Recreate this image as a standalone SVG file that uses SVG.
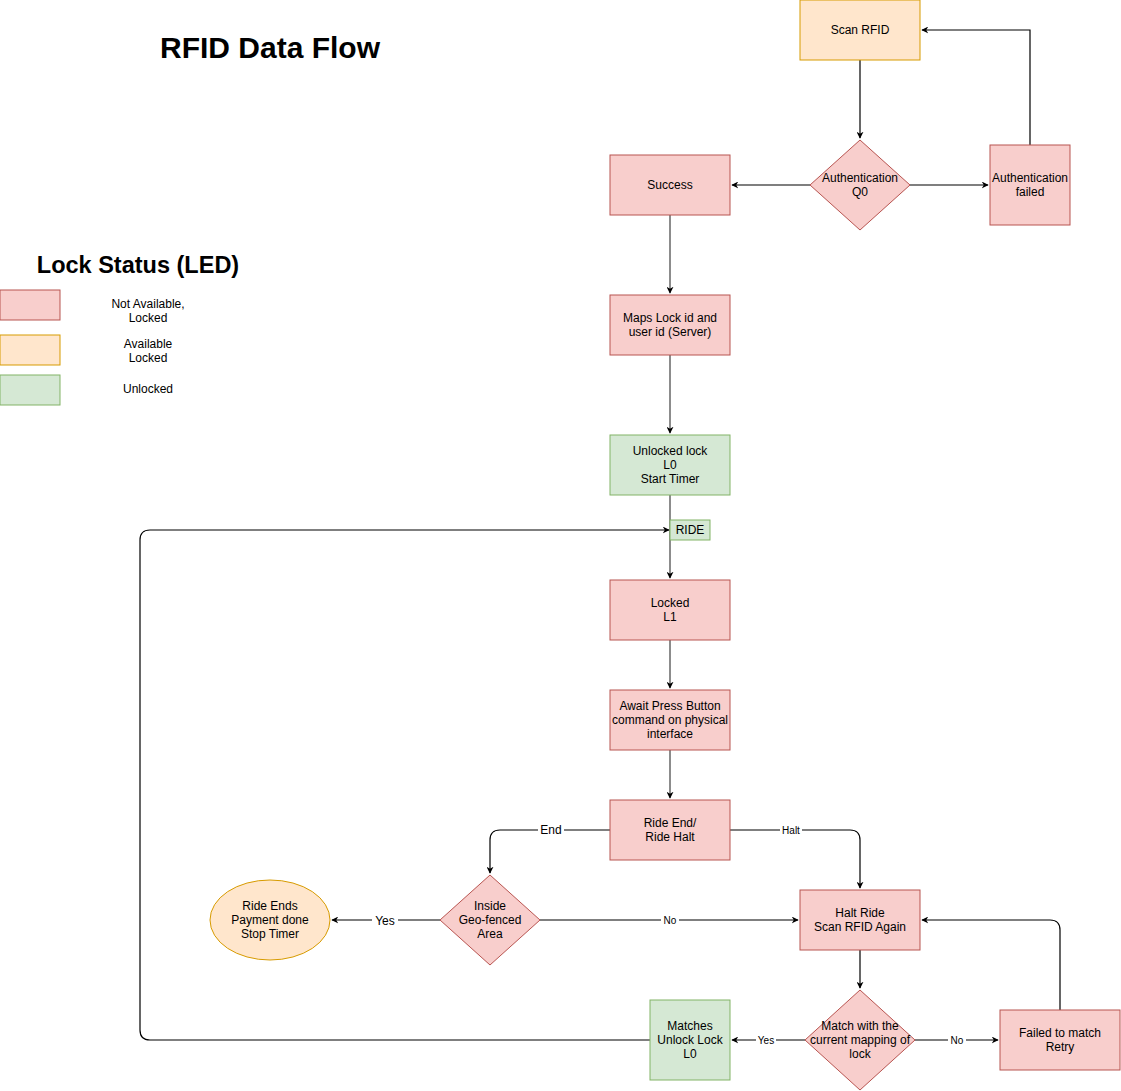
<svg xmlns="http://www.w3.org/2000/svg" width="1121" height="1091" viewBox="0 0 1121 1091">
<style>
text{font-family:"Liberation Sans",Arial,sans-serif;font-size:12px;fill:#000;text-anchor:middle}
.red{fill:#f8cecc;stroke:#b85450;stroke-width:1}
.org{fill:#ffe6cc;stroke:#d79b00;stroke-width:1}
.grn{fill:#d5e8d4;stroke:#82b366;stroke-width:1}
.c{fill:none;stroke:#000;stroke-width:1.2}
.g{fill:none;stroke:#666;stroke-width:1.5}
.lblbg{fill:#fff}
</style>
<defs>
<marker id="ah" viewBox="0 0 10 10" refX="9" refY="5" markerWidth="7" markerHeight="7" orient="auto" markerUnits="userSpaceOnUse">
<path d="M0,0 L10,5 L0,10 L3,5 Z" fill="#000"/>
</marker>
</defs>
<rect width="1121" height="1091" fill="#fff"/>

<g id="title"><text x="270" y="58" style="font-size:30px;font-weight:bold">RFID Data Flow</text></g>
<g id="legend">
<text x="138" y="273" style="font-size:23.5px;font-weight:bold">Lock Status (LED)</text>
<rect class="red" x="0" y="290" width="60" height="30"/>
<text x="148" y="308">Not Available,</text><text x="148" y="322">Locked</text>
<rect class="org" x="0" y="335" width="60" height="30"/>
<text x="148" y="348">Available</text><text x="148" y="362">Locked</text>
<rect class="grn" x="0" y="375" width="60" height="30"/>
<text x="148" y="393">Unlocked</text>
</g>

<g id="connectors">
<path class="c" d="M860,60 V138" marker-end="url(#ah)"/>
<path class="c" d="M810,185 H732" marker-end="url(#ah)"/>
<path class="c" d="M910,185 H988" marker-end="url(#ah)"/>
<path class="c" d="M1030,145 V30 H922" marker-end="url(#ah)"/>
<path class="g" d="M670,215 V293" marker-end="url(#ah)"/>
<path class="g" d="M670,355 V433" marker-end="url(#ah)"/>
<path class="g" d="M670,495 V578" marker-end="url(#ah)"/>
<path class="g" d="M670,640 V688" marker-end="url(#ah)"/>
<path class="g" d="M670,750 V798" marker-end="url(#ah)"/>
<path class="c" d="M650,1040 H150 Q140,1040 140,1030 V540 Q140,530 150,530 H669" marker-end="url(#ah)"/>
<path class="c" d="M610,830 H500 Q490,830 490,840 V873" marker-end="url(#ah)"/>
<path class="c" d="M730,830 H850 Q860,830 860,840 V888" marker-end="url(#ah)"/>
<path class="c" d="M440,920 H332" marker-end="url(#ah)"/>
<path class="c" d="M540,920 H798" marker-end="url(#ah)"/>
<path class="c" d="M860,950 V988" marker-end="url(#ah)"/>
<path class="c" d="M805,1040 H732" marker-end="url(#ah)"/>
<path class="c" d="M915,1040 H998" marker-end="url(#ah)"/>
<path class="c" d="M1060,1010 V930 Q1060,920 1050,920 H922" marker-end="url(#ah)"/>
<rect class="lblbg" x="538" y="823" width="26" height="14"/><text x="551" y="834">End</text>
<rect class="lblbg" x="780" y="824" width="22" height="12"/><text x="791" y="834" style="font-size:10px">Halt</text>
<rect class="lblbg" x="372" y="913" width="26" height="14"/><text x="385" y="925">Yes</text>
<rect class="lblbg" x="661" y="914" width="18" height="12"/><text x="670" y="924" style="font-size:10px">No</text>
<rect class="lblbg" x="756" y="1034" width="20" height="12"/><text x="766" y="1044" style="font-size:10px">Yes</text>
<rect class="lblbg" x="948" y="1034" width="18" height="12"/><text x="957" y="1044" style="font-size:10px">No</text>
</g>

<g id="scan-rfid"><rect class="org" x="800" y="0" width="120" height="60"/><text x="860" y="34">Scan RFID</text></g>
<g id="auth"><polygon class="red" points="860,140 910,185 860,230 810,185"/><text x="860" y="182">Authentication</text><text x="860" y="196">Q0</text></g>
<g id="success"><rect class="red" x="610" y="155" width="120" height="60"/><text x="670" y="189">Success</text></g>
<g id="auth-failed"><rect class="red" x="990" y="145" width="80" height="80"/><text x="1030" y="182">Authentication</text><text x="1030" y="196">failed</text></g>
<g id="maps"><rect class="red" x="610" y="295" width="120" height="60"/><text x="670" y="322">Maps Lock id and</text><text x="670" y="336">user id (Server)</text></g>
<g id="unlocked"><rect class="grn" x="610" y="435" width="120" height="60"/><text x="670" y="455">Unlocked lock</text><text x="670" y="469">L0</text><text x="670" y="483">Start Timer</text></g>
<g id="ride"><rect class="grn" x="670" y="520" width="40" height="20"/><text x="690" y="534">RIDE</text></g>
<g id="locked"><rect class="red" x="610" y="580" width="120" height="60"/><text x="670" y="607">Locked</text><text x="670" y="621">L1</text></g>
<g id="await"><rect class="red" x="610" y="690" width="120" height="60"/><text x="670" y="710">Await Press Button</text><text x="670" y="724">command on physical</text><text x="670" y="738">interface</text></g>
<g id="ride-end"><rect class="red" x="610" y="800" width="120" height="60"/><text x="670" y="827">Ride End/</text><text x="670" y="841">Ride Halt</text></g>
<g id="geo"><polygon class="red" points="490,875 540,920 490,965 440,920"/><text x="490" y="910">Inside</text><text x="490" y="924">Geo-fenced</text><text x="490" y="938">Area</text></g>
<g id="ride-ends"><ellipse class="org" cx="270" cy="920" rx="60" ry="40"/><text x="270" y="910">Ride Ends</text><text x="270" y="924">Payment done</text><text x="270" y="938">Stop Timer</text></g>
<g id="halt-ride"><rect class="red" x="800" y="890" width="120" height="60"/><text x="860" y="917">Halt Ride</text><text x="860" y="931">Scan RFID Again</text></g>
<g id="match"><polygon class="red" points="860,990 915,1040 860,1090 805,1040"/><text x="860" y="1030">Match with the</text><text x="860" y="1044">current mapping of</text><text x="860" y="1058">lock</text></g>
<g id="failed-match"><rect class="red" x="1000" y="1010" width="120" height="60"/><text x="1060" y="1037">Failed to match</text><text x="1060" y="1051">Retry</text></g>
<g id="matches"><rect class="grn" x="650" y="1000" width="80" height="80"/><text x="690" y="1030">Matches</text><text x="690" y="1044">Unlock Lock</text><text x="690" y="1058">L0</text></g>
</svg>
